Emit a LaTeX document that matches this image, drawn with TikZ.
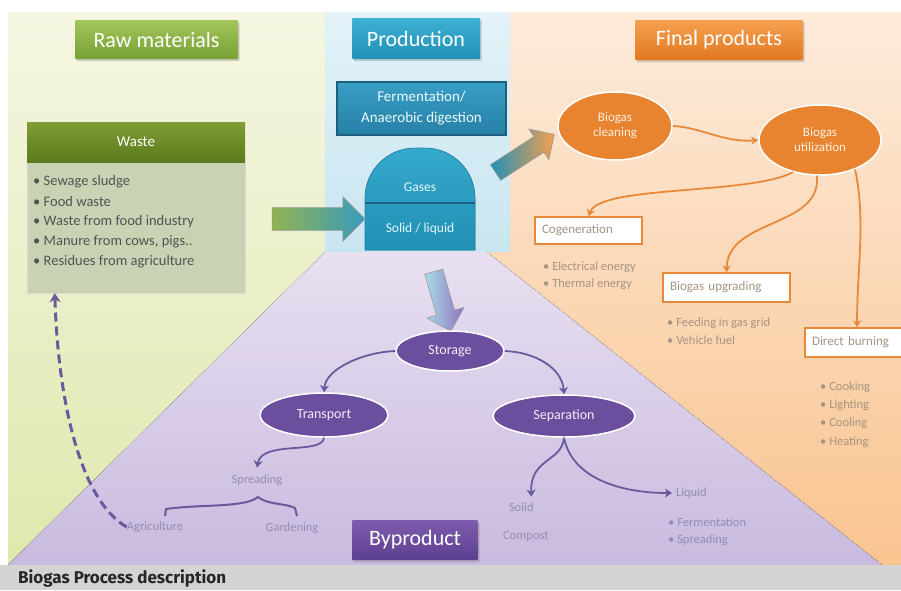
\documentclass[tikz,border=0pt]{standalone}
\usepackage{fontspec}
\setmainfont{Carlito}
\newfontfamily\capfont{Fira Sans}
\usetikzlibrary{shapes.geometric,shapes.arrows,arrows.meta,shadows}
\definecolor{greenT}{HTML}{F5F6E2}
\definecolor{greenB}{HTML}{DFE8AE}
\definecolor{blueT}{HTML}{E3F2F8}
\definecolor{blueB}{HTML}{C8E6F1}
\definecolor{orT}{HTML}{FDEBDB}
\definecolor{orB}{HTML}{F9C490}
\definecolor{puT}{HTML}{E8E0F1}
\definecolor{puB}{HTML}{C9BADF}
\definecolor{ovalO}{HTML}{E8832F}
\definecolor{ovalP}{HTML}{6B4E9E}
\definecolor{lineO}{HTML}{E8893A}
\definecolor{lineP}{HTML}{6A5A9C}
\definecolor{txtO}{HTML}{A69482}
\definecolor{txtP}{HTML}{948BB2}
\definecolor{capBg}{HTML}{D4D4D4}
\definecolor{rawT}{HTML}{A3C65A}
\definecolor{rawB}{HTML}{78A034}
\definecolor{prodT}{HTML}{3DB0D4}
\definecolor{prodB}{HTML}{2290B5}
\definecolor{finT}{HTML}{F5A050}
\definecolor{finB}{HTML}{E27820}
\definecolor{byT}{HTML}{7D5CAE}
\definecolor{byB}{HTML}{5D3F8F}
\definecolor{wasteT}{HTML}{809C34}
\definecolor{wasteB}{HTML}{5A7A1C}
\definecolor{wasteBody}{HTML}{C9D3B4}
\definecolor{fermT}{HTML}{3A9EC4}
\definecolor{fermB}{HTML}{2680A6}
\definecolor{fermD}{HTML}{1D5F7E}
\definecolor{tankT}{HTML}{35A9CC}
\definecolor{tankB}{HTML}{2090B4}
\begin{document}
\begin{tikzpicture}[x=1pt,y=-1pt,
  header/.style={rounded corners=1pt, text=white, inner sep=0pt, font=\fontsize{22}{24}\selectfont,
    drop shadow={opacity=0.35,shadow xshift=1.5pt,shadow yshift=-2pt}},
  ovO/.style={ellipse, draw=white, line width=1.5pt, fill=ovalO, text=white!88!orange, inner sep=0pt,
    align=center, font=\fontsize{13}{15}\selectfont},
  ovP/.style={ellipse, draw=white, line width=1.5pt, fill=ovalP, text=white!92!violet, inner sep=0pt,
    align=center, font=\fontsize{14}{16}\selectfont},
  obox/.style={draw=lineO, line width=1.4pt, fill=white, text=txtO, inner xsep=7pt, inner ysep=0pt,
    align=left, font=\fontsize{13}{15}\selectfont},
  oarr/.style={draw=lineO, line width=1.8pt, -{Stealth[length=7pt,width=8pt,inset=2pt]}},
  parr/.style={draw=lineP, line width=1.8pt, -{Stealth[length=7pt,width=9pt,inset=2pt]}},
  otxt/.style={text=txtO, inner sep=0pt, anchor=west, font=\fontsize{12.5}{14}\selectfont},
  ptxt/.style={text=txtP, inner sep=0pt, font=\fontsize{12.5}{14}\selectfont},
  witem/.style={text=black!68, inner sep=0pt, anchor=west, font=\fontsize{14.5}{16}\selectfont},
  blockarr/.style={single arrow, single arrow head extend=10pt, draw=black!40, line width=0.6pt}
]
\useasboundingbox (0,0) rectangle (901,590);
\clip (0,0) rectangle (901,590);
\fill[white] (0,0) rectangle (901,590);
% background regions
\fill[top color=greenT, bottom color=greenB] (8,12) -- (325,12) -- (325,252) -- (8,565) -- cycle;
\fill[top color=blueT, bottom color=blueB] (325,12) -- (510,12) -- (510,252) -- (325,252) -- cycle;
\fill[top color=orT, bottom color=orB] (510,12) -- (901,12) -- (901,565) -- (882,565) -- (487,252) -- (510,252) -- cycle;
\fill[top color=puT, bottom color=puB] (325,252) -- (487,252) -- (882,565) -- (8,565) -- cycle;
% caption band
\fill[capBg] (0,565) rectangle (901,590);
\node[anchor=west, inner sep=0pt, text=black!85, font=\capfont\bfseries\fontsize{17}{19}\selectfont] (caption) at (18,578) {Biogas Process description};

% headers
\node[header, top color=rawT, bottom color=rawB, minimum width=163pt, minimum height=39pt] (raw) at (156.5,39.5) {Raw materials};
\node[header, top color=prodT, bottom color=prodB, minimum width=128pt, minimum height=41pt] (prod) at (416,38.5) {Production};
\node[header, top color=finT, bottom color=finB, minimum width=168pt, minimum height=40pt] (final) at (719,40) {Final products};
\node[header, top color=byT, bottom color=byB, minimum width=126pt, minimum height=40pt] (byprod) at (415,540) {Byproduct};

% waste box
\node[fill=wasteBody, draw=black!15, minimum width=218pt, minimum height=131pt, inner sep=0pt] (wasteb) at (136,227.5) {};
\node[top color=wasteT, bottom color=wasteB, minimum width=218pt, minimum height=40pt, inner sep=0pt, text=white, font=\fontsize{15}{17}\selectfont] (wasteh) at (136,142) {Waste};
\node[witem] (w1) at (33,182) {• Sewage sludge};
\node[witem] (w2) at (33,202) {• Food waste};
\node[witem] (w3) at (33,222) {• Waste from food industry};
\node[witem] (w4) at (33,242) {• Manure from cows, pigs..};
\node[witem] (w5) at (33,262) {• Residues from agriculture};

% production
\node[top color=fermT, bottom color=fermB, draw=fermD, line width=1.2pt,
  minimum width=169pt, minimum height=53pt, inner sep=0pt, align=center, text=cyan!8!white,
  font=\fontsize{15}{21}\selectfont] (ferm) at (421.5,108.5) {Fermentation/\\Anaerobic digestion};
\fill[top color=tankT, bottom color=tankB, draw=fermB, line width=0.6pt]
  (365,250) [rounded corners=50pt] -- (365,148) -- (475,148) [sharp corners] -- (475,250) -- cycle;
\draw[fermD, line width=1.2pt] (365,203) -- (475,203);
\node[inner sep=0pt, text=cyan!10!white, font=\fontsize{13.5}{15}\selectfont] (gases) at (420,187) {Gases};
\node[inner sep=0pt, text=cyan!10!white, font=\fontsize{13.5}{15}\selectfont] (solliq) at (420,229) {Solid / liquid};

% block arrows
\node[blockarr, left color=rawT!90!black, right color=prodB!90!white, minimum height=93pt, inner sep=11pt, single arrow head extend=11pt] (a1) at (313,219) {};
\node[blockarr, rotate=33, left color=prodB, right color=finT, minimum height=70pt, inner sep=9pt, single arrow head extend=9pt] (a2) at (521,156) {};
\node[blockarr, rotate=-74, left color=prodT!45!white, right color=byT!85!white, minimum height=62pt, inner sep=9pt, single arrow head extend=10pt] (a3) at (441,297) {};

% final products
\node[ovO, minimum width=114pt, minimum height=68pt] (clean) at (615,126) {Biogas\\cleaning};
\node[ovO, minimum width=122pt, minimum height=70pt] (util) at (820,140) {Biogas\\utilization};
\node[obox, text width=93pt, minimum height=27pt] (cogen) at (588.5,230.5) {Cogeneration};
\node[obox, text width=113pt, minimum height=29pt] (upgr) at (726.5,287.5) {Biogas upgrading};
\node[obox, text width=100pt, minimum height=29pt] (direct) at (862,342.5) {Direct burning};
\draw[oarr] (clean.east) .. controls (700,127) and (725,143) .. (util.west);
\draw[oarr] (util.-130) .. controls (750,195) and (600,185) .. (cogen.north);
\draw[oarr] (util.-95) .. controls (822,228) and (728,218) .. (upgr.north);
\draw[oarr] (util.-40) .. controls (866,220) and (857,270) .. ([xshift=-5pt]direct.north);
\node[otxt] (e1) at (543,267) {• Electrical energy};
\node[otxt] (e2) at (543,284) {• Thermal energy};
\node[otxt] (g1) at (667,323) {• Feeding in gas grid};
\node[otxt] (g2) at (667,340) {• Vehicle fuel};
\node[otxt] (d1) at (820,387) {• Cooking};
\node[otxt] (d2) at (820,405) {• Lighting};
\node[otxt] (d3) at (820,423) {• Cooling};
\node[otxt] (d4) at (820,442) {• Heating};

% byproduct
\node[ovP, minimum width=108pt, minimum height=40pt] (storage) at (450,351) {Storage};
\node[ovP, minimum width=128pt, minimum height=44pt] (transport) at (324,415) {Transport};
\node[ovP, minimum width=142pt, minimum height=42pt] (separation) at (564,416) {Separation};
\node[ptxt, outer sep=7pt] (spread) at (257,480) {Spreading};
\node[ptxt] (agri) at (155,527) {Agriculture};
\node[ptxt] (garden) at (292,528) {Gardening};
\node[ptxt, anchor=west, outer sep=6pt] (solid) at (503,507) {Solid};
\node[ptxt, anchor=west] (compost) at (503,536) {Compost};
\node[ptxt, anchor=west, outer sep=4pt] (liquid) at (672,493) {Liquid};
\node[ptxt, anchor=west] (lf) at (668,522) {• Fermentation};
\node[ptxt, anchor=west] (ls) at (668,540) {• Spreading};
\draw[parr] (storage.west) .. controls (365,352) and (326,368) .. (transport.north);
\draw[parr] (storage.east) .. controls (535,352) and (562,368) .. (separation.north);
\draw[parr] (transport.south) .. controls (322,455) and (262,440) .. (spread.north);
\draw[parr] (separation.south) .. controls (562,462) and (530,458) .. ([xshift=10pt]solid.north);
\draw[parr] (separation.south) .. controls (572,478) and (620,493) .. (liquid.west);
\coordinate (bl) at (165,516);
\coordinate (bm) at (258,497);
\coordinate (br) at (297,516);
\draw[lineP, line width=2pt, line join=round] (bl) -- (166,509) .. controls (200,504) and (245,508) .. (bm)
  .. controls (268,505) and (285,503) .. (295,508) -- (br);
\draw[lineP, line width=3pt, dash pattern=on 9pt off 5pt, -{Stealth[length=9pt,width=11pt]}]
  (agri.west) .. controls (80,500) and (58,400) .. ([xshift=28pt]wasteb.south west);
\end{tikzpicture}
\end{document}
